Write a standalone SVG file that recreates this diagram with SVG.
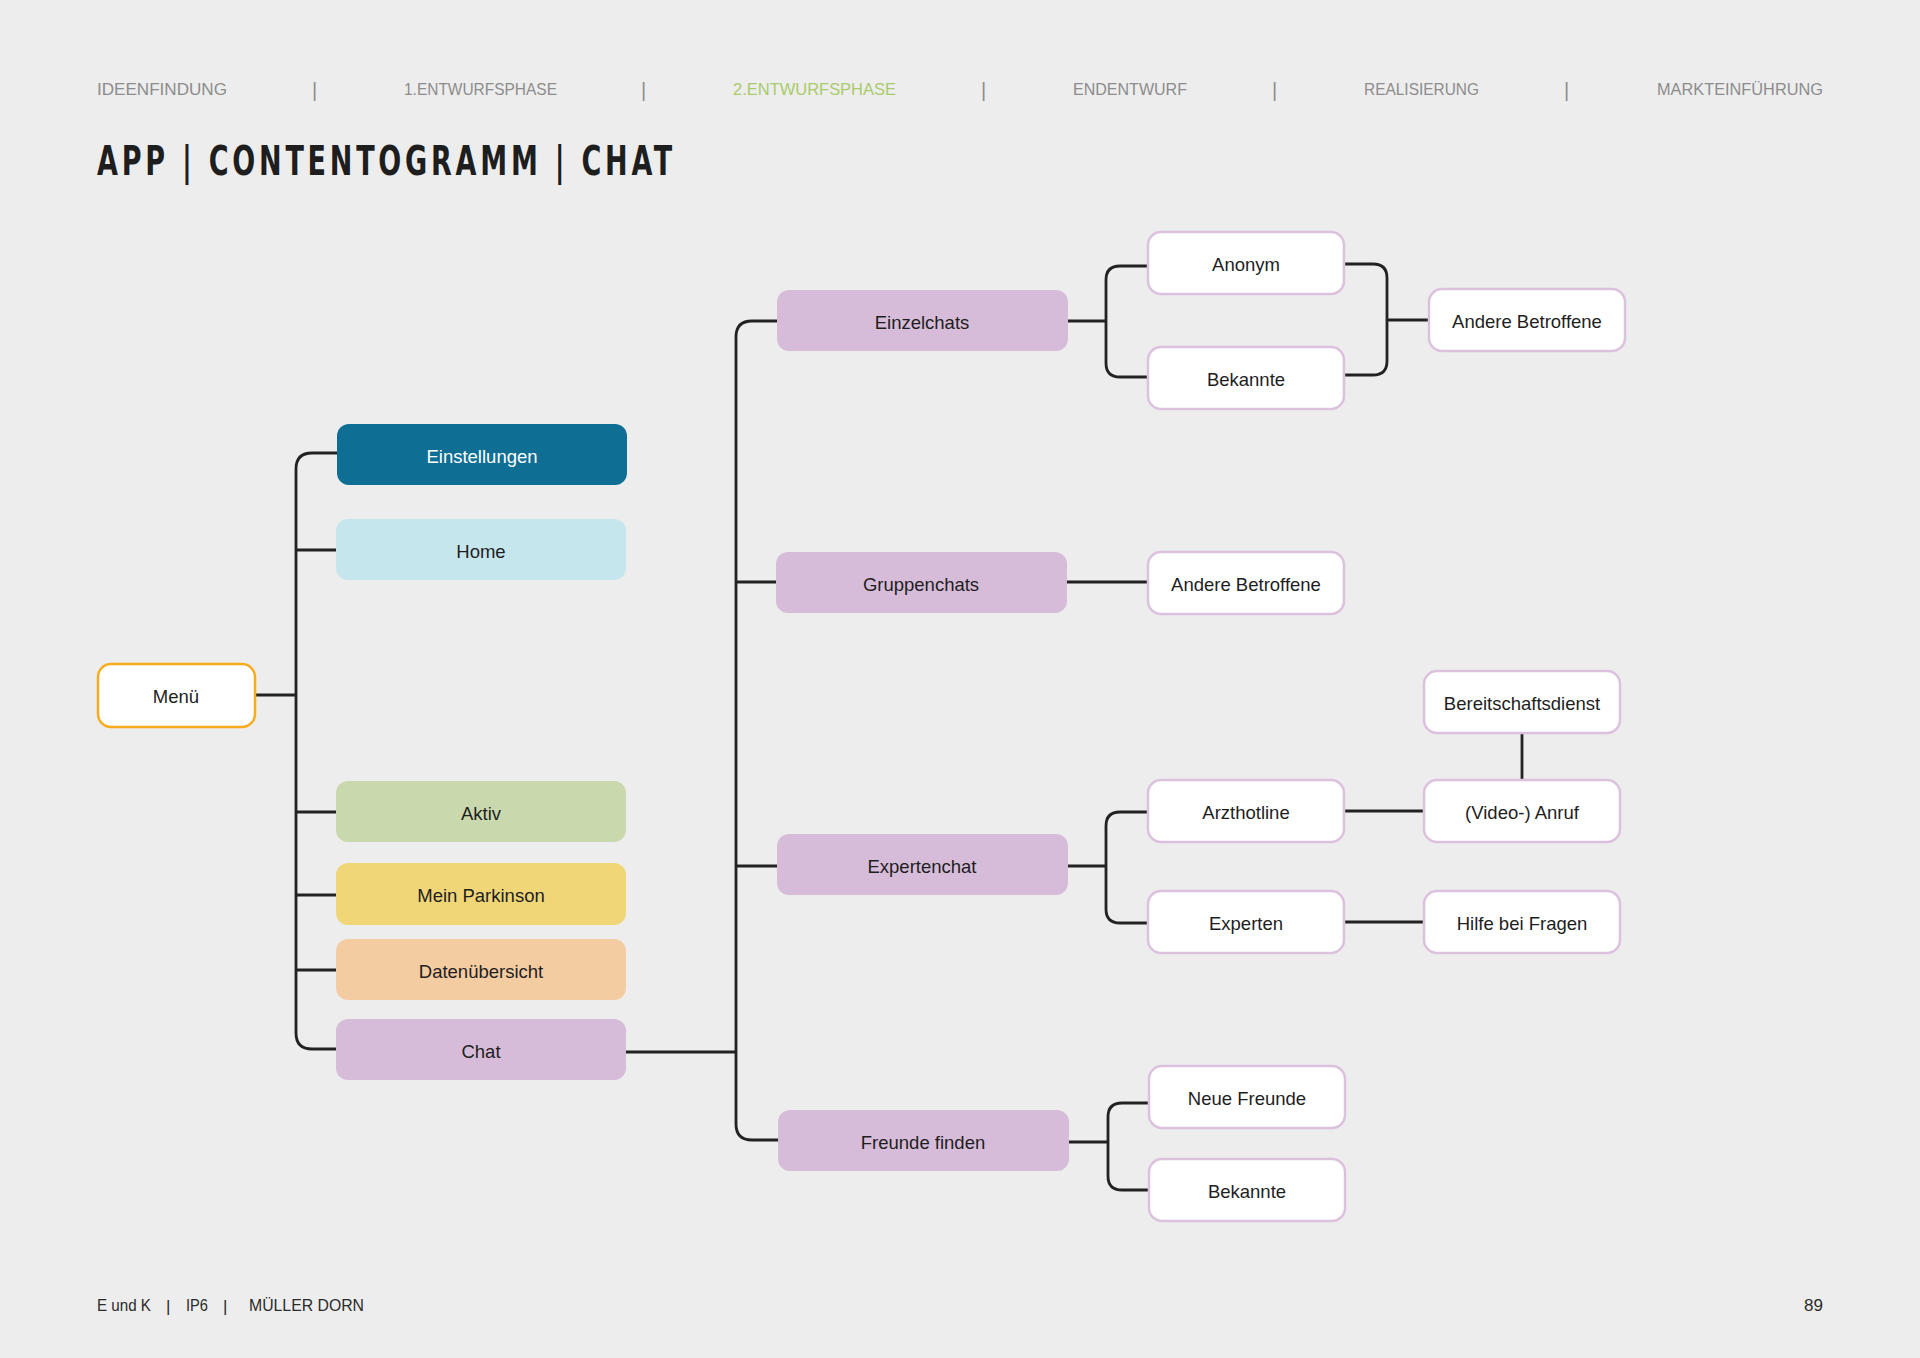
<svg xmlns="http://www.w3.org/2000/svg" width="1920" height="1358" viewBox="0 0 1920 1358">
<style>
.hd{font-family:'Liberation Sans',Arial,sans-serif;font-size:17px;fill:#8c8c8c}
.hd.on{fill:#a9cb6b}
.bar{font-family:'Liberation Sans',Arial,sans-serif;font-size:20px;fill:#8c8c8c}
.title{font-family:'Liberation Sans Narrow','DejaVu Sans Condensed','Liberation Sans',sans-serif;font-stretch:condensed;font-weight:bold;font-size:40px;fill:#1e1e1e}
.lbl{font-family:'Liberation Sans',Arial,sans-serif;font-size:18.5px;fill:#1e1e1e;text-anchor:middle}
.lbl.w{fill:#ffffff}
.ft{font-family:'Liberation Sans',Arial,sans-serif;font-size:17px;fill:#2a2a2a}
.wn{fill:#ffffff;stroke:#dcc1de;stroke-width:2.5}
.pk{fill:#d7bcd9}
.cn path{fill:none;stroke:#222222;stroke-width:2.8}
</style>
<rect width="1920" height="1358" fill="#ededed"/>

<g id="header">
<text class="hd" x="97" y="95" textLength="130" lengthAdjust="spacingAndGlyphs">IDEENFINDUNG</text>
<text class="bar" x="312" y="97">|</text>
<text class="hd" x="404" y="95" textLength="153" lengthAdjust="spacingAndGlyphs">1.ENTWURFSPHASE</text>
<text class="bar" x="641" y="97">|</text>
<text class="hd on" x="733" y="95" textLength="163" lengthAdjust="spacingAndGlyphs">2.ENTWURFSPHASE</text>
<text class="bar" x="981" y="97">|</text>
<text class="hd" x="1073" y="95" textLength="114" lengthAdjust="spacingAndGlyphs">ENDENTWURF</text>
<text class="bar" x="1272" y="97">|</text>
<text class="hd" x="1364" y="95" textLength="115" lengthAdjust="spacingAndGlyphs">REALISIERUNG</text>
<text class="bar" x="1564" y="97">|</text>
<text class="hd" x="1657" y="95" textLength="166" lengthAdjust="spacingAndGlyphs">MARKTEINFÜHRUNG</text>
</g>

<text class="title" x="97" y="175" textLength="579" lengthAdjust="spacingAndGlyphs" letter-spacing="5">APP | CONTENTOGRAMM | CHAT</text>

<g id="connectors" class="cn">
<path d="M337,453 H312 Q296,453 296,469 V1033 Q296,1049 312,1049 H336"/>
<path d="M296,550 H336"/>
<path d="M255,695 H296"/>
<path d="M296,812 H336"/>
<path d="M296,895 H336"/>
<path d="M296,970 H336"/>
<path d="M626,1052 H736"/>
<path d="M777,321 H752 Q736,321 736,337 V1124 Q736,1140 752,1140 H778"/>
<path d="M736,582 H776"/>
<path d="M736,866 H777"/>
<path d="M1068,321 H1106"/>
<path d="M1148,266 H1120 Q1106,266 1106,280 V363 Q1106,377 1120,377 H1148"/>
<path d="M1344,264 H1373 Q1387,264 1387,278 V361 Q1387,375 1373,375 H1344"/>
<path d="M1387,320 H1429"/>
<path d="M1067,582 H1148"/>
<path d="M1068,866 H1106"/>
<path d="M1148,812 H1120 Q1106,812 1106,826 V909 Q1106,923 1120,923 H1148"/>
<path d="M1344,811 H1424"/>
<path d="M1344,922 H1424"/>
<path d="M1522,733 V780"/>
<path d="M1069,1142 H1108"/>
<path d="M1149,1103 H1122 Q1108,1103 1108,1117 V1176 Q1108,1190 1122,1190 H1149"/>
</g>

<g id="menu"><rect x="98" y="664" width="157" height="63" rx="13" fill="#ffffff" stroke="#f7ac1f" stroke-width="2.5"/><text class="lbl" x="176" y="703">Menü</text></g>
<g id="einstellungen"><rect x="337" y="424" width="290" height="61" rx="12" fill="#0e6e94"/><text class="lbl w" x="482" y="463">Einstellungen</text></g>
<g id="home"><rect x="336" y="519" width="290" height="61" rx="12" fill="#c6e6ee"/><text class="lbl" x="481" y="558">Home</text></g>
<g id="aktiv"><rect x="336" y="781" width="290" height="61" rx="12" fill="#cad9ad"/><text class="lbl" x="481" y="820">Aktiv</text></g>
<g id="mein-parkinson"><rect x="336" y="863" width="290" height="62" rx="12" fill="#f1d678"/><text class="lbl" x="481" y="902">Mein Parkinson</text></g>
<g id="datenuebersicht"><rect x="336" y="939" width="290" height="61" rx="12" fill="#f4cca2"/><text class="lbl" x="481" y="978">Datenübersicht</text></g>
<g id="chat"><rect x="336" y="1019" width="290" height="61" rx="12" class="pk"/><text class="lbl" x="481" y="1058">Chat</text></g>

<g id="einzelchats"><rect x="777" y="290" width="291" height="61" rx="12" class="pk"/><text class="lbl" x="922" y="329">Einzelchats</text></g>
<g id="gruppenchats"><rect x="776" y="552" width="291" height="61" rx="12" class="pk"/><text class="lbl" x="921" y="591">Gruppenchats</text></g>
<g id="expertenchat"><rect x="777" y="834" width="291" height="61" rx="12" class="pk"/><text class="lbl" x="922" y="873">Expertenchat</text></g>
<g id="freunde-finden"><rect x="778" y="1110" width="291" height="61" rx="12" class="pk"/><text class="lbl" x="923" y="1149">Freunde finden</text></g>

<g id="anonym"><rect x="1148" y="232" width="196" height="62" rx="13" class="wn"/><text class="lbl" x="1246" y="271">Anonym</text></g>
<g id="bekannte-einzel"><rect x="1148" y="347" width="196" height="62" rx="13" class="wn"/><text class="lbl" x="1246" y="386">Bekannte</text></g>
<g id="andere-betroffene-einzel"><rect x="1429" y="289" width="196" height="62" rx="13" class="wn"/><text class="lbl" x="1527" y="328">Andere Betroffene</text></g>
<g id="andere-betroffene-gruppe"><rect x="1148" y="552" width="196" height="62" rx="13" class="wn"/><text class="lbl" x="1246" y="591">Andere Betroffene</text></g>
<g id="arzthotline"><rect x="1148" y="780" width="196" height="62" rx="13" class="wn"/><text class="lbl" x="1246" y="819">Arzthotline</text></g>
<g id="experten"><rect x="1148" y="891" width="196" height="62" rx="13" class="wn"/><text class="lbl" x="1246" y="930">Experten</text></g>
<g id="bereitschaftsdienst"><rect x="1424" y="671" width="196" height="62" rx="13" class="wn"/><text class="lbl" x="1522" y="710">Bereitschaftsdienst</text></g>
<g id="video-anruf"><rect x="1424" y="780" width="196" height="62" rx="13" class="wn"/><text class="lbl" x="1522" y="819">(Video-) Anruf</text></g>
<g id="hilfe-bei-fragen"><rect x="1424" y="891" width="196" height="62" rx="13" class="wn"/><text class="lbl" x="1522" y="930">Hilfe bei Fragen</text></g>
<g id="neue-freunde"><rect x="1149" y="1066" width="196" height="62" rx="13" class="wn"/><text class="lbl" x="1247" y="1105">Neue Freunde</text></g>
<g id="bekannte-freunde"><rect x="1149" y="1159" width="196" height="62" rx="13" class="wn"/><text class="lbl" x="1247" y="1198">Bekannte</text></g>

<g id="footer">
<text class="ft" x="97" y="1311" textLength="54" lengthAdjust="spacingAndGlyphs">E und K</text>
<text class="ft" x="166" y="1312">|</text>
<text class="ft" x="186" y="1311" textLength="22" lengthAdjust="spacingAndGlyphs">IP6</text>
<text class="ft" x="223" y="1312">|</text>
<text class="ft" x="249" y="1311" textLength="115" lengthAdjust="spacingAndGlyphs">MÜLLER  DORN</text>
<text class="ft" x="1823" y="1311" text-anchor="end">89</text>
</g>
</svg>
